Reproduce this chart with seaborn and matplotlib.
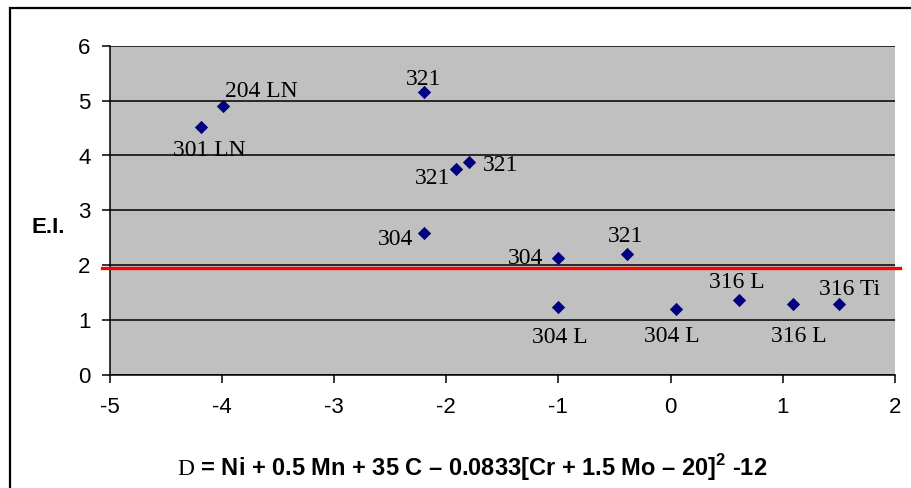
import matplotlib
matplotlib.use("Agg")
import matplotlib.pyplot as plt
import seaborn as sns
import pandas as pd
from matplotlib.patches import Rectangle

# ---------------- data ----------------
grades = ["301 LN", "204 LN", "321", "321", "321", "304", "304", "321",
          "304 L", "304 L", "316 L", "316 L", "316 Ti"]
d_values = [-4.19, -3.99, -2.20, -1.91, -1.80, -2.20, -1.00, -0.39,
            -1.00, 0.05, 0.61, 1.09, 1.50]
ei_values = [4.52, 4.90, 5.16, 3.75, 3.88, 2.59, 2.13, 2.20,
             1.24, 1.20, 1.37, 1.29, 1.29]
threshold = 1.94
x_ticks = [-5, -4, -3, -2, -1, 0, 1, 2]
y_ticks = [0, 1, 2, 3, 4, 5, 6]
x_label = r"$\mathrm{D}$ = Ni + 0.5 Mn + 35 C – 0.0833[Cr + 1.5 Mo – 20]$^{\mathbf{2}}$ -12"
y_label = "E.I."

# label offsets (pixels, to text centre)
label_offsets = [(9, -21), (38, 17), (0, 15), (-24, -7), (32, -1), (-28, -4),
                 (-33, 2), (-1, 20), (1, -28), (-4, -25), (-2, 20), (6, -30),
                 (11, 17)]

df = pd.DataFrame({"D": d_values, "EI": ei_values, "grade": grades})

plt.rcParams["mathtext.fontset"] = "custom"
plt.rcParams["mathtext.rm"] = "Liberation Serif"
plt.rcParams["mathtext.bf"] = "Liberation Sans:bold"
plt.rcParams["font.family"] = ["Liberation Sans", "DejaVu Sans"]

fig = plt.figure(figsize=(9.11, 4.88), dpi=100)
ax = fig.add_axes([110 / 911, 1 - 374.9 / 488, 784.7 / 911, 329.1 / 488])
ax.set_facecolor("#C0C0C0")

sns.scatterplot(data=df, x="D", y="EI", marker="D", color="#000080",
                s=46, linewidth=0, ax=ax, zorder=3)

ax.set_xlim(-5, 2)
ax.set_ylim(0, 6)
ax.set_xticks(x_ticks)
ax.set_yticks(y_ticks)
ax.set_xticklabels([str(v) for v in x_ticks])
ax.set_yticklabels([str(v) for v in y_ticks])
ax.grid(axis="y", color="black", linewidth=1.1)
ax.set_axisbelow(True)
for side in ["top", "right"]:
    ax.spines[side].set_visible(False)
for side in ["left", "bottom"]:
    ax.spines[side].set_color("black")
    ax.spines[side].set_linewidth(1.1)
ax.tick_params(axis="both", direction="out", length=6, width=1.1,
               labelsize=16, colors="black")
ax.tick_params(axis="x", pad=10)
ax.tick_params(axis="y", pad=8)

# red threshold line
ax.axhline(threshold, xmin=-0.0102, xmax=1.0067, color="#FF0000",
           linewidth=2.4, clip_on=False, zorder=4)

# data labels
for (dx, dy), g, xv, yv in zip(label_offsets, grades, d_values, ei_values):
    ax.annotate(g, (xv, yv), xytext=(dx, dy - 8), textcoords="offset pixels",
                ha="center", va="baseline", fontsize=17,
                family="Liberation Serif", color="black", zorder=5)

ax.set_xlabel("")
ax.set_ylabel("")
fig.text(472 / 911, 1 - 476 / 488, x_label, ha="center", va="baseline",
         fontsize=17, fontweight="bold")
fig.text(48 / 911, 1 - 233 / 488, y_label, ha="center", va="baseline",
         fontsize=16, fontweight="bold")

# outer chart border
fig.add_artist(Rectangle((10 / 911, -0.1), 1.2, 0.1 + (1 - 8 / 488),
                         transform=fig.transFigure, fill=False,
                         edgecolor="black", linewidth=1.6))

fig.savefig("out.png", dpi=100)
